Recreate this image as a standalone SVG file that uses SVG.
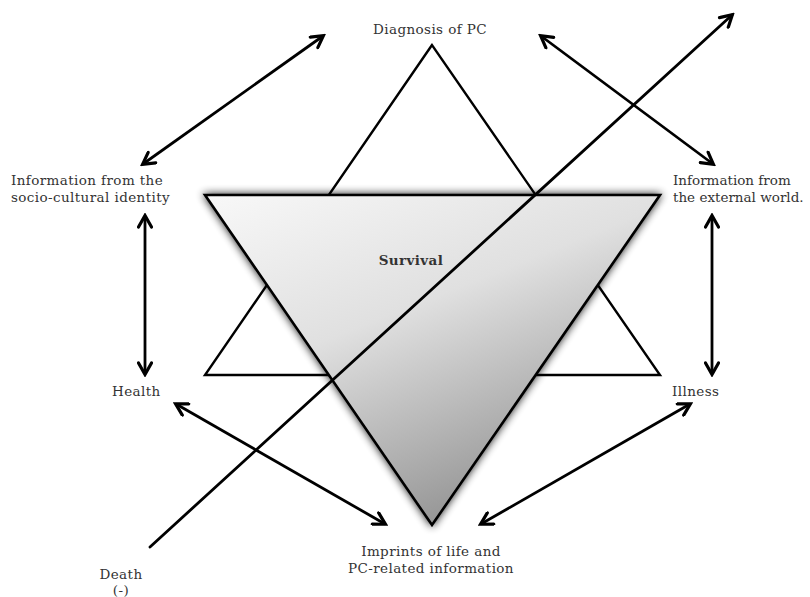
<svg xmlns="http://www.w3.org/2000/svg" width="810" height="597" viewBox="0 0 810 597">
<style>
.ln{stroke:#000;stroke-width:2.6;fill:none;stroke-linecap:round}
.lbl{font-family:"DejaVu Serif","Liberation Serif",serif;font-size:13.5px;letter-spacing:0.4px;fill:#333}
.tight{letter-spacing:0px}
.arr{stroke:#000;stroke-width:2.8;fill:none;marker-start:url(#ah);marker-end:url(#ah)}
</style>
<defs>
<marker id="ah" viewBox="0 0 16 16" refX="13" refY="8" markerWidth="16" markerHeight="16" markerUnits="userSpaceOnUse" orient="auto-start-reverse">
<path d="M2,1.5 L13.5,8 L2,14.5" fill="none" stroke="#000" stroke-width="3.2" stroke-linejoin="miter" stroke-linecap="round"/>
</marker>
<linearGradient id="g" x1="0" y1="0" x2="0.55" y2="1">
<stop offset="0" stop-color="#f8f8f8"/>
<stop offset="0.45" stop-color="#e0e0e0"/>
<stop offset="1" stop-color="#939393"/>
</linearGradient>
<filter id="sh" x="-10%" y="-10%" width="120%" height="120%">
<feGaussianBlur in="SourceAlpha" stdDeviation="4"/>
<feComponentTransfer><feFuncA type="linear" slope="0.9"/></feComponentTransfer>
<feMerge><feMergeNode/><feMergeNode in="SourceGraphic"/></feMerge>
</filter>
</defs>
<rect width="810" height="597" fill="#fff"/>
<g id="triangle-up">
<polygon points="432,45 205,375 660,375" fill="#fff" stroke="#000" stroke-width="2.4" stroke-linejoin="miter"/>
</g>
<g id="survival">
<polygon points="205,195 660,195 432,525" fill="url(#g)" stroke="#000" stroke-width="2.6" filter="url(#sh)"/>
<text class="lbl" x="411" y="265" text-anchor="middle" font-weight="bold">Survival</text>
</g>
<g id="diagnosis"><text class="lbl" x="430" y="34" text-anchor="middle">Diagnosis of PC</text></g>
<g id="socio"><text class="lbl" x="11" y="185">Information from the</text><text class="lbl" x="11" y="202">socio-cultural identity</text></g>
<g id="external"><text class="lbl tight" x="673" y="185">Information from</text><text class="lbl tight" x="673" y="202">the external world.</text></g>
<g id="health"><text class="lbl" x="112" y="396">Health</text></g>
<g id="illness"><text class="lbl" x="672" y="396">Illness</text></g>
<g id="imprints"><text class="lbl" x="431" y="556" text-anchor="middle">Imprints of life and</text><text class="lbl" x="431" y="573" text-anchor="middle">PC-related information</text></g>
<g id="death"><text class="lbl" x="121" y="579" text-anchor="middle">Death</text><text class="lbl" x="121" y="595" text-anchor="middle">(-)</text></g>
<g id="connectors">
<line class="arr" x1="323" y1="36" x2="143" y2="164"/>
<line class="arr" x1="541" y1="36" x2="713" y2="164"/>
<line class="arr" x1="145" y1="216" x2="145" y2="374"/>
<line class="arr" x1="712" y1="216" x2="712" y2="374"/>
<line class="arr" x1="176" y1="404" x2="385" y2="524"/>
<line class="arr" x1="690" y1="404" x2="481" y2="524"/>
<line class="ln" x1="150" y1="547" x2="732" y2="15" style="stroke-width:2.8;marker-end:url(#ah)"/>
</g>
</svg>
